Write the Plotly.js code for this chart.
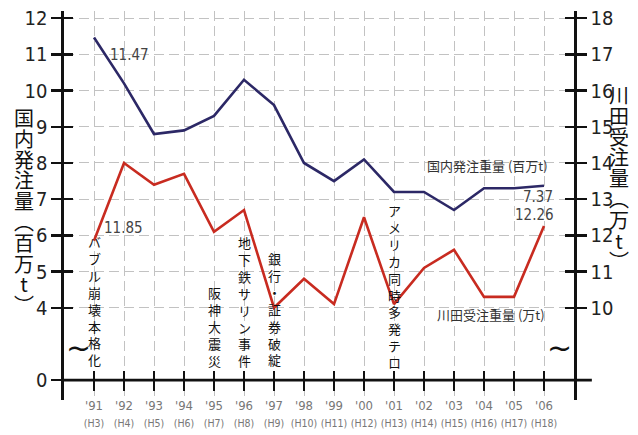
<!DOCTYPE html>
<html>
<head>
<meta charset="utf-8">
<script src="https://cdn.plot.ly/plotly-3.0.1.min.js"></script>
<style>
  html, body { margin: 0; padding: 0; background: #fff; }
  #chart { width: 638px; height: 435px; }
</style>
</head>
<body>
<div id="chart"></div>
<script>
// Fiscal years on the x axis
const years = [1991, 1992, 1993, 1994, 1995, 1996, 1997, 1998, 1999, 2000, 2001, 2002, 2003, 2004, 2005, 2006];
const yearLabels = ["'91", "'92", "'93", "'94", "'95", "'96", "'97", "'98", "'99", "'00", "'01", "'02", "'03", "'04", "'05", "'06"];
const heiseiLabels = ["(H3)", "(H4)", "(H5)", "(H6)", "(H7)", "(H8)", "(H9)", "(H10)", "(H11)", "(H12)", "(H13)", "(H14)", "(H15)", "(H16)", "(H17)", "(H18)"];

// 国内発注量 (百万t) — left axis
const domestic = [11.47, 10.2, 8.8, 8.9, 9.3, 10.3, 9.6, 8.0, 7.5, 8.1, 7.2, 7.2, 6.7, 7.3, 7.3, 7.37];
// 川田受注量 (万t) — right axis
const kawada = [11.85, 14.0, 13.4, 13.7, 12.1, 12.7, 10.0, 10.8, 10.1, 12.5, 10.1, 11.1, 11.6, 10.3, 10.3, 12.26];

// Axis ticks (the left axis is broken: "0" sits where 2 would be)
const leftTickVals = [2, 4, 5, 6, 7, 8, 9, 10, 11, 12];
const leftTickText = ["0", "4", "5", "6", "7", "8", "9", "10", "11", "12"];
const rightTickVals = [10, 11, 12, 13, 14, 15, 16, 17, 18];

// Events written vertically along the timeline
const eventYears = [1991, 1995, 1996, 1997, 2001];
const eventLabels = ["バブル崩壊本格化", "阪神大震災", "地下鉄サリン事件", "銀行・証券破綻", "アメリカ同時多発テロ"];

const leftTitle = "国内発注量︵百万t︶";
const rightTitle = "川田受注量︵万t︶";
const domesticName = "国内発注重量 (百万t)";
const kawadaName = "川田受注重量 (万t)";

const JP = "'Noto Sans CJK JP', 'Noto Sans', sans-serif";
const NARROW = "'Liberation Sans Narrow', 'Arial Narrow', 'DejaVu Sans Condensed', sans-serif";

const leftRange = [1.45, 12.2];
const offset = 6; // right value = left value + 6
const rightRange = [leftRange[0] + offset, leftRange[1] + offset];
const xRange = [1990, 2007];
const baseFrac = (2 - leftRange[0]) / (leftRange[1] - leftRange[0]);

const vertical = s => Array.from(s).join('<br>');
const bigChars = (s, px) => Array.from(s).map(c => `<span style="font-size:${px}px">${c}</span>`).join('<br>');

const tickText = yearLabels.map((y, i) => `${y}<br><span style="font-size:10.5px">${heiseiLabels[i]}</span>`);

const GRID = { showgrid: true, gridcolor: '#c2c2c2', griddash: '10px,5px', gridwidth: 1 };

const traces = [
  {
    x: years, y: domestic, xaxis: 'x', yaxis: 'y',
    type: 'scatter', mode: 'lines', name: domesticName,
    line: { color: '#2c2866', width: 2.6 },
    hoverinfo: 'skip'
  },
  {
    x: years, y: kawada, xaxis: 'x', yaxis: 'y2',
    type: 'scatter', mode: 'lines', name: kawadaName,
    line: { color: '#c82b20', width: 2.6 },
    hoverinfo: 'skip'
  }
];

const axisCommon = {
  showline: true, linecolor: '#111', linewidth: 2.6,
  ticks: 'outside', ticklen: 10, tickwidth: 2.4, tickcolor: '#111',
  zeroline: false, fixedrange: true
};

const eventY = [4.21, 3.48, 4.18, 3.96, 4.58];

const annotations = [
  // value labels at the first and last points
  { x: years[0], y: domestic[0], xref: 'x', yref: 'y', text: domestic[0].toFixed(2),
    showarrow: false, xshift: 35, yshift: -18, font: { family: NARROW, size: 15, color: '#444' } },
  { x: years[0], y: kawada[0], xref: 'x', yref: 'y2', text: kawada[0].toFixed(2),
    showarrow: false, xshift: 29, yshift: 13, font: { family: NARROW, size: 15, color: '#444' } },
  { x: years[years.length - 1], y: domestic[domestic.length - 1], xref: 'x', yref: 'y',
    text: domestic[domestic.length - 1].toFixed(2), showarrow: false, xanchor: 'right',
    xshift: 11, yshift: -11, font: { family: NARROW, size: 15, color: '#444' } },
  { x: years[years.length - 1], y: kawada[kawada.length - 1], xref: 'x', yref: 'y2',
    text: kawada[kawada.length - 1].toFixed(2), showarrow: false, xanchor: 'right',
    xshift: 12, yshift: 11, font: { family: NARROW, size: 15, color: '#444' } },
  // series names
  { x: 2004.1, y: 7.94, xref: 'x', yref: 'y', text: domesticName, showarrow: false,
    font: { family: JP, size: 13, color: '#333' } },
  { x: 2004.23, y: 3.80, xref: 'x', yref: 'y', text: kawadaName, showarrow: false,
    font: { family: JP, size: 13, color: '#333' } },
  // axis titles (vertical writing)
  { x: -0.078, y: 6.68, xref: 'paper', yref: 'y', text: bigChars(leftTitle, 20), showarrow: false,
    xanchor: 'center', yanchor: 'middle', font: { family: JP, size: 16, color: '#111' } },
  { x: 1.088, y: 7.59, xref: 'paper', yref: 'y', text: bigChars(rightTitle, 20), showarrow: false,
    xanchor: 'center', yanchor: 'middle', font: { family: JP, size: 16, color: '#111' } },
  // axis break marks
  { x: 0, y: 2.91, xref: 'paper', yref: 'y', text: '~', showarrow: false,
    font: { family: 'DejaVu Sans', size: 30, color: '#111' } },
  { x: 1, y: 2.91, xref: 'paper', yref: 'y', text: '~', showarrow: false,
    font: { family: 'DejaVu Sans', size: 30, color: '#111' } }
];

eventLabels.forEach((t, i) => {
  annotations.push({
    x: eventYears[i], y: eventY[i], xref: 'x', yref: 'y', text: vertical(t),
    showarrow: false, xanchor: 'center', yanchor: 'middle',
    font: { family: JP, size: 13, color: '#111' }
  });
});

const layout = {
  width: 638, height: 435,
  margin: { l: 64, r: 64, t: 11, b: 35, pad: 0 },
  paper_bgcolor: '#fff', plot_bgcolor: '#fff',
  showlegend: false,
  xaxis: Object.assign({}, GRID, {
    range: xRange, anchor: 'free', position: baseFrac,
    tickvals: years, ticktext: tickText, ticklabelstandoff: 3,
    tickfont: { family: NARROW, size: 13, color: '#777' },
    showline: false, ticks: 'outside', ticklen: 10, tickwidth: 2.4, tickcolor: '#111',
    zeroline: false, fixedrange: true, automargin: false
  }),
  xaxis2: {
    range: xRange, overlaying: 'x', anchor: 'free', position: baseFrac,
    tickvals: years, showticklabels: false, showgrid: false, showline: false,
    ticks: 'inside', ticklen: 9, tickwidth: 2.4, tickcolor: '#111',
    zeroline: false, fixedrange: true
  },
  yaxis: Object.assign({}, axisCommon, GRID, {
    range: leftRange, side: 'left',
    tickvals: leftTickVals, ticktext: leftTickText,
    tickfont: { family: NARROW, size: 20, color: '#222' },
    automargin: false
  }),
  yaxis2: Object.assign({}, axisCommon, {
    range: rightRange, side: 'right', overlaying: 'y', anchor: 'x',
    tickvals: rightTickVals,
    tickfont: { family: NARROW, size: 20, color: '#222' },
    showgrid: false, automargin: false
  }),
  yaxis3: {
    range: leftRange, side: 'left', overlaying: 'y', anchor: 'x',
    tickvals: leftTickVals, showticklabels: false, showgrid: false, showline: false,
    ticks: 'inside', ticklen: 9, tickwidth: 2.4, tickcolor: '#111',
    zeroline: false, fixedrange: true
  },
  yaxis4: {
    range: rightRange, side: 'right', overlaying: 'y', anchor: 'x',
    tickvals: rightTickVals, showticklabels: false, showgrid: false, showline: false,
    ticks: 'inside', ticklen: 9, tickwidth: 2.4, tickcolor: '#111',
    zeroline: false, fixedrange: true
  },
  shapes: [
    // hide vertical grid below the baseline
    { type: 'rect', layer: 'between', xref: 'paper', yref: 'y',
      x0: 0, x1: 1, y0: leftRange[0], y1: 2, fillcolor: '#fff', line: { width: 0 } },
    // baseline (extends past the right axis)
    { type: 'line', layer: 'above', xref: 'paper', yref: 'y',
      x0: -0.004, x1: 1.035, y0: 2, y1: 2, line: { color: '#111', width: 2.6 } }
  ],
  annotations: annotations
};

// extra invisible traces so the overlay axes are drawn
traces.push({ x: [years[0]], y: [5], xaxis: 'x2', yaxis: 'y3', mode: 'markers',
  marker: { opacity: 0 }, hoverinfo: 'skip', showlegend: false });
traces.push({ x: [years[0]], y: [12], xaxis: 'x2', yaxis: 'y4', mode: 'markers',
  marker: { opacity: 0 }, hoverinfo: 'skip', showlegend: false });

Plotly.newPlot('chart', traces, layout, { staticPlot: true, displayModeBar: false });
</script>
</body>
</html>
